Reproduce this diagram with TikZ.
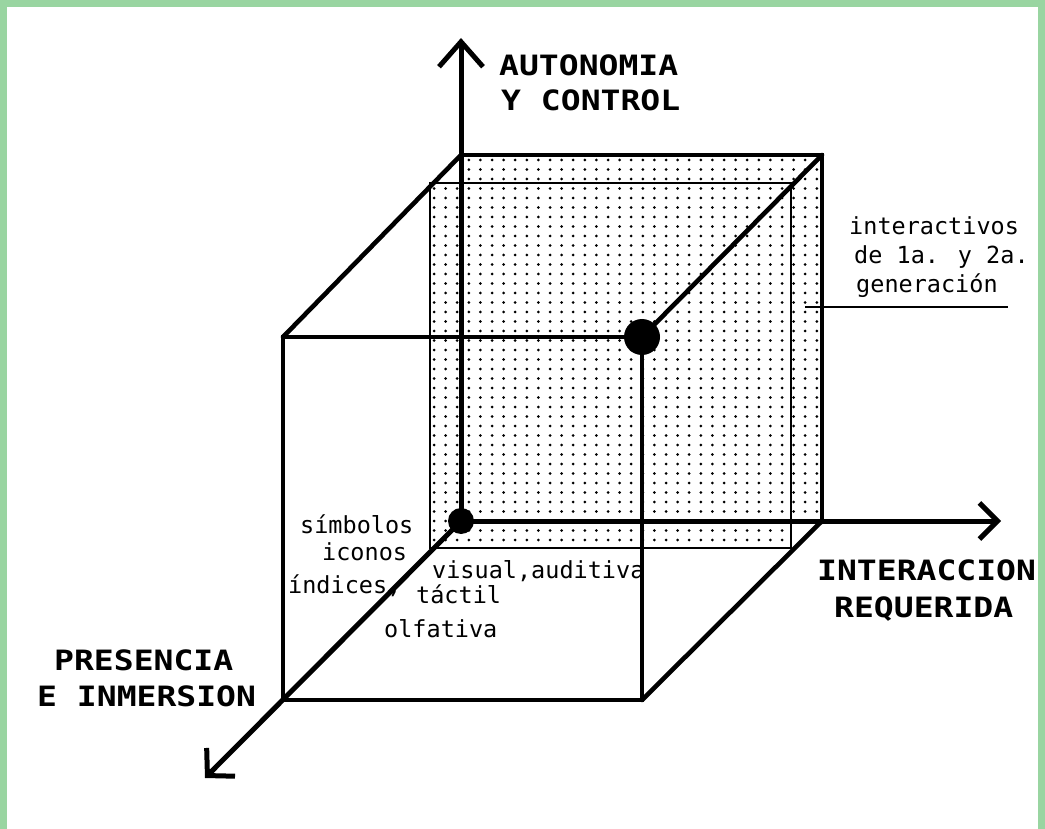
\documentclass[tikz,border=0pt]{standalone}
\usepackage{fontspec}
\usepackage{graphicx}
\usetikzlibrary{arrows.meta}
\newfontfamily\labfont{DejaVu Sans Mono}
\definecolor{bordergreen}{RGB}{153,213,161}
\newcommand{\widelab}[1]{\scalebox{1.18}[1]{#1}}
\begin{document}
\begin{tikzpicture}[x=1pt,y=-1pt,
  axisline/.style={line width=5pt},
  edge/.style={line width=4.6pt,line cap=round},
  thinedge/.style={line width=3.4pt,line cap=round},
  innerline/.style={line width=2.2pt},
  boldlab/.style={font=\labfont\bfseries\fontsize{28}{30}\selectfont,anchor=base west,inner sep=0pt},
  smalllab/.style={font=\labfont\fontsize{23.5}{26}\selectfont,anchor=base west,inner sep=0pt},
  dotpt/.style={fill=black}]
% background and border
\fill[white] (0,0) rectangle (1045,829);
\useasboundingbox (0,0) rectangle (1045,829);
\fill[bordergreen] (0,0) rectangle (1045,7);
\fill[bordergreen] (0,0) rectangle (7,829);
\fill[bordergreen] (1038,0) rectangle (1045,829);
% coordinates
\coordinate (O) at (461,521);
\coordinate (Btl) at (461,155);
\coordinate (Btr) at (822,155);
\coordinate (Bbr) at (822,521);
\coordinate (Ftl) at (283,337);
\coordinate (Ftr) at (642,337);
\coordinate (Fbr) at (642,700);
\coordinate (Fbl) at (283,700);
\coordinate (Ytip) at (461,38);
\coordinate (Xtip) at (1001,521);
\coordinate (Ztip) at (205,778);
\coordinate (Itl) at (430,183);
\coordinate (Itr) at (791,183);
\coordinate (Ibr) at (791,548);
\coordinate (Ibl) at (430,548);
\coordinate (L1) at (805,307);
\coordinate (L2) at (1008,307);
% dotted slab
\begin{scope}
\clip (461,155) -- (822,155) -- (822,521) -- (791,521) -- (791,548) -- (430,548) -- (430,183) -- (461,183) -- cycle;
\foreach \i in {0,...,34} {
  \foreach \j in {0,...,41} {
    \fill[dotpt] ({434+\i*11.6},{160+\j*9.5}) circle[radius=1.5pt];
  }
}
\end{scope}
% inner thin rectangle
\draw[innerline] (Itl) -- (Itr) -- (Ibr) -- (Ibl) -- cycle;
% back face edges
\draw[edge] (Btl) -- (Btr) -- (Bbr);
% front face
\draw[edge] (Fbl) -- (Ftl) -- (Ftr);
\draw[thinedge] (Ftr) -- (Fbr) -- (Fbl);
% receding edges
\draw[edge] (Ftl) -- (Btl);
\draw[edge] (Ftr) -- (Btr);
\draw[edge] (Fbr) -- (Bbr);
% axes
\draw[axisline,-{Straight Barb[length=25pt,width=44pt]}] (O) -- (Ytip);
\draw[axisline,-{Straight Barb[length=18pt,width=36pt]}] (O) -- (Xtip);
\draw[axisline,-{Straight Barb[length=19pt,width=40pt]}] (O) -- (Ztip);
% dots
\fill (Ftr) circle[radius=18pt];
\fill (O) circle[radius=13pt];
% leader
\draw[innerline] (L1) -- (L2);
% labels
\node[boldlab] (ylab1) at (499,76) {\widelab{AUTONOMIA}};
\node[boldlab] (ylab2) at (501,111) {\widelab{Y CONTROL}};
\node[boldlab] (zlab1) at (54,670) {\widelab{PRESENCIA}};
\node[boldlab] (zlab2) at (37,706) {\widelab{E INMERSION}};
\node[boldlab] (xlab1) at (817,580) {\widelab{INTERACCION}};
\node[boldlab] (xlab2) at (834,617) {\widelab{REQUERIDA}};
\node[smalllab] (t1) at (849,235) {interactivos};
\node[smalllab] (t2) at (854,264) {de 1a. y 2a.};
\node[smalllab] (t3) at (856,293) {generación};
\node[smalllab] (s1) at (300,533) {símbolos};
\node[smalllab] (s2) at (322,560) {iconos};
\node[smalllab] (s3) at (288,593) {índices,};
\node[smalllab] (v1) at (432,578) {visual,auditiva};
\node[smalllab] (v2) at (416,603) {táctil};
\node[smalllab] (v3) at (384,637) {olfativa};
\end{tikzpicture}
\end{document}
